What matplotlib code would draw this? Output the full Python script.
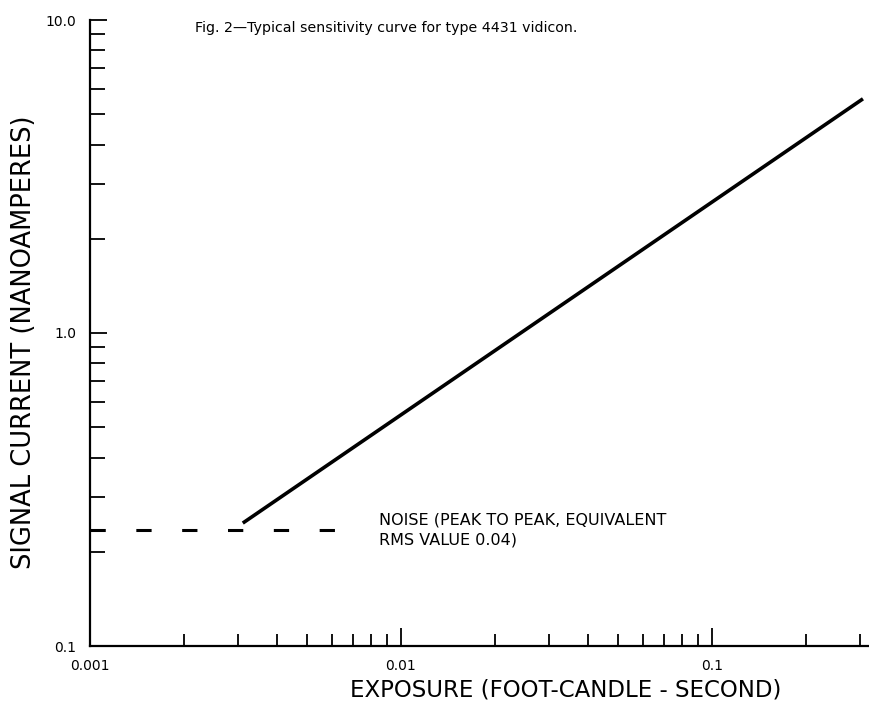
import numpy as np
import matplotlib.pyplot as plt
from matplotlib.ticker import LogLocator, FixedLocator, FixedFormatter, NullFormatter

# sensitivity curve end points (exposure in fc-s, signal in nA)
exposure = [0.0031, 0.306]
signal = [0.247, 5.6]

# noise level (peak to peak)
noise_x = [0.001, 0.0071]
noise_y = [0.235, 0.235]

x_ticks = [0.001, 0.01, 0.1]
x_labels = ['0.001', '0.01', '0.1']
y_ticks = [0.1, 1.0, 10.0]
y_labels = ['0.1', '1.0', '10.0']

plt.rcParams['font.family'] = 'DejaVu Sans'

W, H = 869, 705
fig = plt.figure(figsize=(W / 100, H / 100), dpi=100)
ax = fig.add_axes([90 / W, 1 - 646 / H, 1 - 90 / W, (646 - 20) / H])

ax.plot(exposure, signal, color='black', lw=2.6, solid_capstyle='butt')
ax.plot(noise_x, noise_y, color='black', lw=2.2, dashes=(5.0, 10.0))

ax.set_xscale('log')
ax.set_yscale('log')
ax.set_xlim(0.001, 0.32)
ax.set_ylim(0.1, 10.0)

for s in ['top', 'right']:
    ax.spines[s].set_visible(False)
for s in ['left', 'bottom']:
    ax.spines[s].set_linewidth(1.6)

ax.xaxis.set_major_locator(FixedLocator(x_ticks))
ax.xaxis.set_major_formatter(FixedFormatter(x_labels))
ax.yaxis.set_major_locator(FixedLocator(y_ticks))
ax.yaxis.set_major_formatter(FixedFormatter(y_labels))
ax.xaxis.set_minor_locator(LogLocator(base=10, subs=np.arange(2, 10)))
ax.yaxis.set_minor_locator(LogLocator(base=10, subs=np.arange(2, 10)))
ax.xaxis.set_minor_formatter(NullFormatter())
ax.yaxis.set_minor_formatter(NullFormatter())

ax.tick_params(which='both', direction='in', width=1.3, labelsize=10)
ax.tick_params(axis='x', which='major', length=13, pad=9)
ax.tick_params(axis='x', which='minor', length=9)
ax.tick_params(axis='y', which='major', length=12, pad=10)
ax.tick_params(axis='y', which='minor', length=11)

# axis titles placed in figure pixels
fig.text(566 / W, 1 - 690 / H, 'EXPOSURE (FOOT-CANDLE - SECOND)',
         fontsize=16.5, ha='center', va='center')
fig.text(24 / W, 1 - 342 / H, 'SIGNAL CURRENT (NANOAMPERES)',
         fontsize=18.5, ha='center', va='center', rotation=90)

ax.text(0.0071 * 1.2, 0.235, 'NOISE (PEAK TO PEAK, EQUIVALENT\nRMS VALUE 0.04)',
        fontsize=11.5, va='center', ha='left', linespacing=1.45)

fig.text(195 / W, 1 - 28 / H, 'Fig. 2\u2014Typical sensitivity curve for type 4431 vidicon.',
         fontsize=10.2, va='center', ha='left')

fig.savefig('out.png', dpi=100)
